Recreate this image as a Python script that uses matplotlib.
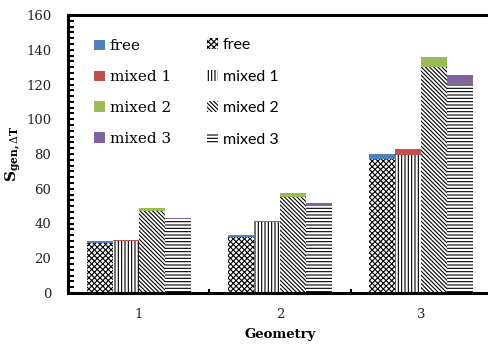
import numpy as np
import matplotlib
matplotlib.use('Agg')
import matplotlib.pyplot as plt
from matplotlib.patches import Patch
from matplotlib.ticker import MultipleLocator, FixedLocator

# data
geometries = ['1', '2', '3']
series = ['free', 'mixed 1', 'mixed 2', 'mixed 3']
# lower (hatched) part of each bar
base_vals = {
    'free':    [29.0, 32.5, 77.0],
    'mixed 1': [29.8, 40.6, 79.2],
    'mixed 2': [47.3, 55.5, 130.3],
    'mixed 3': [42.4, 50.5, 120.2],
}
# upper (coloured) part stacked on top
top_vals = {
    'free':    [0.8, 1.0, 3.2],
    'mixed 1': [0.6, 0.8, 3.7],
    'mixed 2': [1.5, 2.3, 5.3],
    'mixed 3': [1.0, 1.3, 5.5],
}
colors = ['#4F81BD', '#C0504D', '#9BBB59', '#8064A2']
hatches = ['xxxxxx', '|||||', '\\' * 8, '-----']

plt.rcParams['hatch.linewidth'] = 0.8
plt.rcParams['mathtext.fontset'] = 'dejavuserif'

fig = plt.figure(figsize=(4.88, 3.44), dpi=100)
ax = fig.add_axes([68 / 488, 51 / 344, 424 / 488, 278 / 344])

x = np.arange(1, len(geometries) + 1)
w = 0.184
for i, s in enumerate(series):
    pos = x + (i - 1.5) * w
    ax.bar(pos, base_vals[s], width=w, facecolor='white', edgecolor='black',
           hatch=hatches[i], linewidth=0)
    ax.bar(pos, top_vals[s], width=w, bottom=base_vals[s], color=colors[i],
           linewidth=0)

ax.set_xlim(0.5, 3.5)
ax.set_ylim(0, 160)
ax.yaxis.set_major_locator(MultipleLocator(20))
ax.yaxis.set_minor_locator(MultipleLocator(20 / 6))
ax.set_xticks(x)
ax.set_xticklabels(geometries)
ax.xaxis.set_minor_locator(FixedLocator([1.5, 2.5]))
ax.tick_params(axis='x', which='major', length=0, pad=11)
ax.tick_params(axis='x', which='minor', direction='in', length=3, width=1.5)
ax.tick_params(axis='y', which='both', direction='in', length=4, width=1.5)
ax.tick_params(axis='y', which='major', pad=12)
for lab in ax.get_xticklabels() + ax.get_yticklabels():
    lab.set_fontfamily('DejaVu Serif')
    lab.set_fontsize(9.5)
    lab.set_color('#222222')

for sp in ax.spines.values():
    sp.set_linewidth(2.2)
    sp.set_color('black')

ax.set_xlabel('Geometry', fontfamily='DejaVu Serif', fontweight='bold',
              fontsize=9.5, labelpad=5)
ax.set_ylabel(r'$\mathbf{S}_{\mathbf{gen,}\Delta\mathbf{T}}$', fontsize=11,
              labelpad=2)

h1 = [Patch(facecolor=c, edgecolor='none') for c in colors]
leg1 = ax.legend(h1, series, loc='upper left', bbox_to_anchor=(0.062, 0.912),
                 frameon=False, borderpad=0, borderaxespad=0,
                 handlelength=0.7, handleheight=0.7, handletextpad=0.3,
                 labelspacing=1.1, prop={'family': 'DejaVu Serif', 'size': 11})
ax.add_artist(leg1)
h2 = [Patch(facecolor='white', edgecolor='black', hatch=h, linewidth=0)
      for h in hatches]
ax.legend(h2, series, loc='upper left', bbox_to_anchor=(0.328, 0.918),
          frameon=False, borderpad=0, borderaxespad=0,
          handlelength=0.7, handleheight=0.7, handletextpad=0.3,
          labelspacing=1.1, prop={'family': 'Lato', 'size': 11.5})

fig.savefig('out.png', dpi=100)
